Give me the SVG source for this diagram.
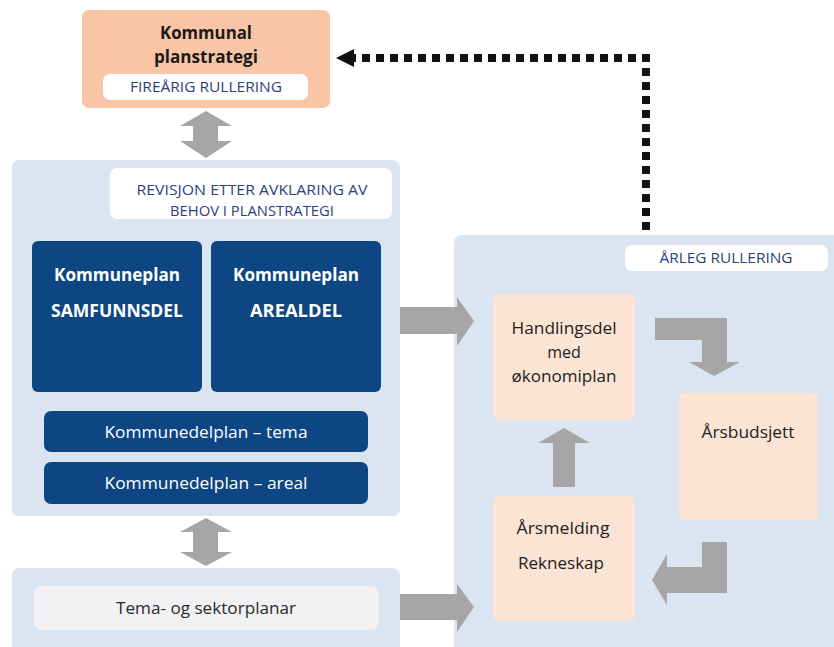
<svg xmlns="http://www.w3.org/2000/svg" width="834" height="647" viewBox="0 0 834 647">
<style>
.panel{fill:#dae5f1}
.pill{fill:#ffffff}
.dark{fill:#0d4682}
.peach{fill:#fce4d4}
.garrow{fill:#a6a6a6}
.t{font-family:"Open Sans","Noto Sans",sans-serif;text-anchor:middle}
.pl{font-size:14.5px;fill:#2e3f7f}
.wb{font-size:17px;font-weight:bold;fill:#ffffff}
.wr{font-size:17px;fill:#ffffff}
.bk{font-size:16px;fill:#222222}
</style>
<rect width="834" height="647" fill="#ffffff"/>
<g id="panel-left"><rect class="panel" x="12" y="160" width="388" height="356" rx="7"/></g>
<g id="panel-bottom"><rect class="panel" x="12" y="568" width="388" height="90" rx="7"/></g>
<g id="panel-right"><rect class="panel" x="454" y="235" width="390" height="420" rx="7"/></g>

<g id="planstrategi">
<rect x="82" y="10" width="248" height="98" rx="7" fill="#f8c6a6"/>
<text class="t" x="206" y="39" font-size="17" font-weight="bold" fill="#1a1a1a" textLength="92" lengthAdjust="spacingAndGlyphs">Kommunal</text>
<text class="t" x="206" y="63" font-size="17" font-weight="bold" fill="#1a1a1a" textLength="104" lengthAdjust="spacingAndGlyphs">planstrategi</text>
<rect class="pill" x="103" y="74" width="205" height="26" rx="7"/>
<text class="t pl" x="206" y="92" textLength="152" lengthAdjust="spacingAndGlyphs">FIREÅRIG RULLERING</text>
</g>

<g id="revisjon">
<rect class="pill" x="110" y="168" width="282" height="51" rx="7"/>
<text class="t pl" x="252" y="195" textLength="231" lengthAdjust="spacingAndGlyphs">REVISJON ETTER AVKLARING AV</text>
<text class="t pl" x="252" y="216" textLength="164" lengthAdjust="spacingAndGlyphs">BEHOV I PLANSTRATEGI</text>
</g>

<g id="samfunnsdel">
<rect class="dark" x="32" y="241" width="170" height="151" rx="6"/>
<text class="t wb" x="117" y="281" textLength="126" lengthAdjust="spacingAndGlyphs">Kommuneplan</text>
<text class="t wb" x="117" y="317" textLength="132" lengthAdjust="spacingAndGlyphs">SAMFUNNSDEL</text>
</g>
<g id="arealdel">
<rect class="dark" x="211" y="241" width="170" height="151" rx="6"/>
<text class="t wb" x="296" y="281" textLength="126" lengthAdjust="spacingAndGlyphs">Kommuneplan</text>
<text class="t wb" x="296" y="317" textLength="92" lengthAdjust="spacingAndGlyphs">AREALDEL</text>
</g>
<g id="kdp-tema">
<rect class="dark" x="44" y="411" width="324" height="41" rx="7"/>
<text class="t wr" x="206" y="438" textLength="203" lengthAdjust="spacingAndGlyphs">Kommunedelplan – tema</text>
</g>
<g id="kdp-areal">
<rect class="dark" x="44" y="462" width="324" height="42" rx="7"/>
<text class="t wr" x="206" y="489" textLength="203" lengthAdjust="spacingAndGlyphs">Kommunedelplan – areal</text>
</g>

<g id="tema-sektor">
<rect x="34" y="586" width="345" height="44" rx="8" fill="#f1f1f3"/>
<text class="t" x="206" y="614" font-size="16.5" fill="#2a2a2a" textLength="180" lengthAdjust="spacingAndGlyphs">Tema- og sektorplanar</text>
</g>

<g id="arleg">
<rect class="pill" x="625" y="245" width="203" height="26" rx="7"/>
<text class="t pl" x="726" y="263" textLength="133" lengthAdjust="spacingAndGlyphs">ÅRLEG RULLERING</text>
</g>

<g id="handlingsdel">
<rect class="peach" x="493" y="294" width="142" height="126" rx="6"/>
<text class="t bk" x="564" y="334" textLength="105" lengthAdjust="spacingAndGlyphs">Handlingsdel</text>
<text class="t bk" x="564" y="358">med</text>
<text class="t bk" x="564" y="382" textLength="105" lengthAdjust="spacingAndGlyphs">økonomiplan</text>
</g>
<g id="arsbudsjett">
<rect class="peach" x="679" y="393" width="139" height="127" rx="6"/>
<text class="t bk" x="748" y="438" textLength="93" lengthAdjust="spacingAndGlyphs">Årsbudsjett</text>
</g>
<g id="arsmelding">
<rect class="peach" x="493" y="496" width="142" height="125" rx="6"/>
<text class="t bk" x="563" y="534" textLength="93" lengthAdjust="spacingAndGlyphs">Årsmelding</text>
<text class="t bk" x="561" y="569" textLength="86" lengthAdjust="spacingAndGlyphs">Rekneskap</text>
</g>

<g id="connectors">
<polygon class="garrow" points="206,111 232,126 218,126 218,141 232,141 206,158 180,141 193,141 193,126 180,126"/>
<polygon class="garrow" points="206,518 232,532 218,532 218,552 232,552 206,566 180,552 193,552 193,532 180,532"/>
<polygon class="garrow" points="400,307 457,307 457,297 474,321 457,346 457,334 400,334"/>
<polygon class="garrow" points="400,594 457,594 457,584 474,607 457,632 457,620 400,620"/>
<polygon class="garrow" points="553,487 553,443 538,443 564,428 590,443 575,443 575,487"/>
<polygon class="garrow" points="655,318 727,318 727,362 740,362 714,376 689,362 702,362 702,340 655,340"/>
<polygon class="garrow" points="702,542 727,542 727,593 667,593 667,605 652,580 667,554 667,567 702,567"/>
<polyline points="646,230 646,58 354,58" fill="none" stroke="#111111" stroke-width="8" stroke-dasharray="8 6"/>
<polygon points="336,58 354,49 354,67" fill="#111111"/>
</g>
</svg>
